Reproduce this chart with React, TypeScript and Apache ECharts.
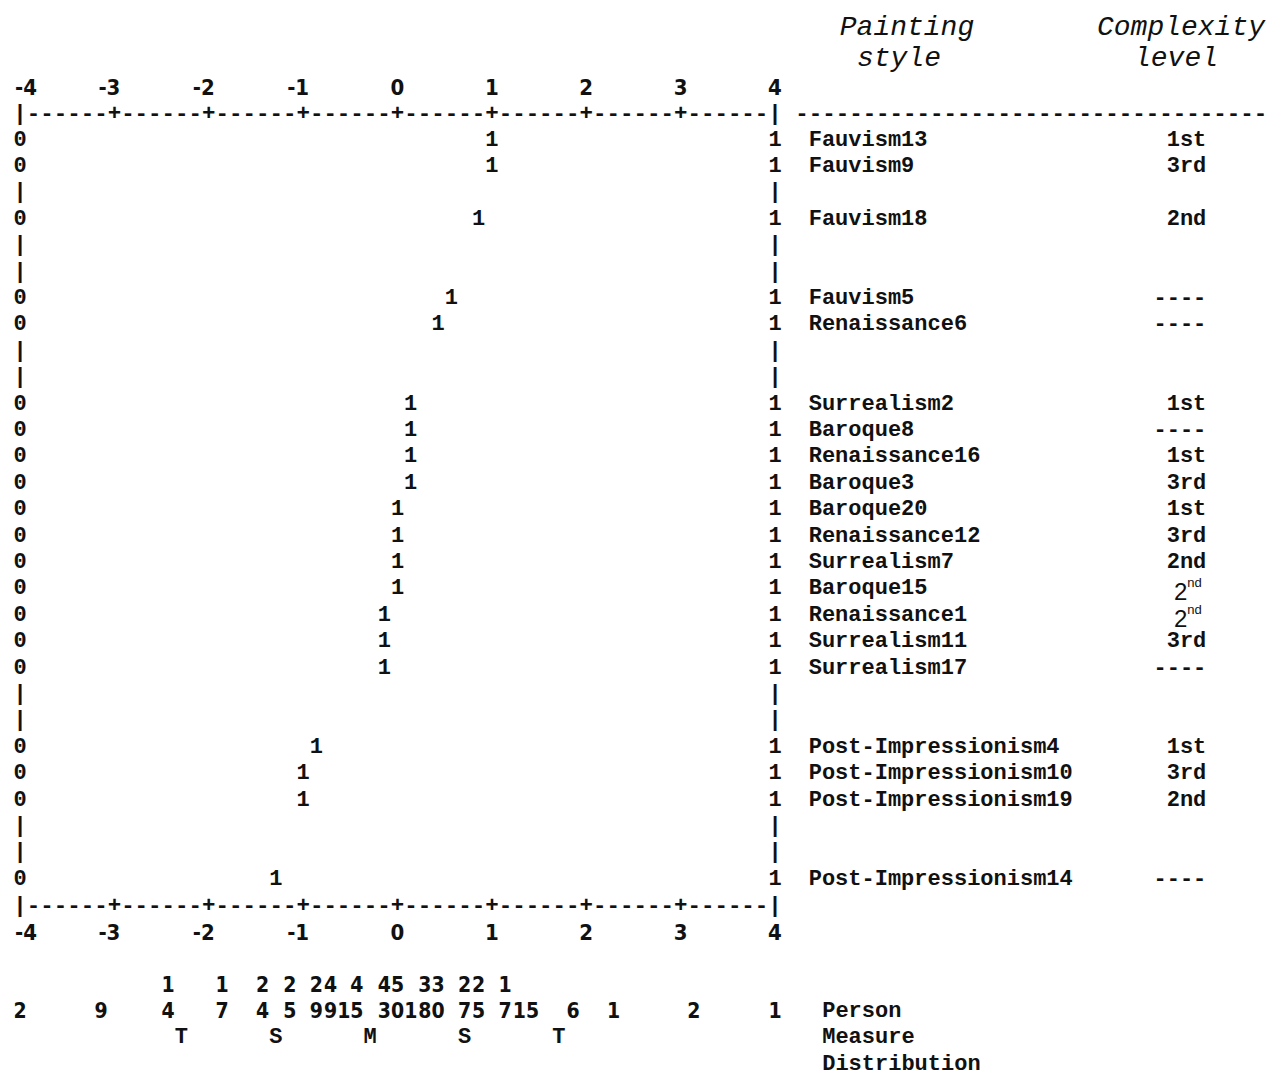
import React, { useEffect, useRef } from "react";
import * as echarts from "echarts";

// ---------------- DATA ----------------
// Item rows, top to bottom ("" = spacer row drawn with "|")
const itemNames: string[] = [
  "Fauvism13", "Fauvism9", "", "Fauvism18", "", "", "Fauvism5", "Renaissance6", "", "",
  "Surrealism2", "Baroque8", "Renaissance16", "Baroque3", "Baroque20", "Renaissance12",
  "Surrealism7", "Baroque15", "Renaissance1", "Surrealism11", "Surrealism17", "", "",
  "Post-Impressionism4", "Post-Impressionism10", "Post-Impressionism19", "", "",
  "Post-Impressionism14",
];
// Item measures (logits) where the expected score "1" is printed
const itemMeasures: (number | null)[] = [
  1.0, 1.0, null, 0.86, null, null, 0.57, 0.43, null, null,
  0.14, 0.14, 0.14, 0.14, 0.0, 0.0,
  0.0, 0.0, -0.14, -0.14, -0.14, null, null,
  -0.86, -1.0, -1.0, null, null,
  -1.29,
];
// Complexity level ("^" marks a superscript suffix)
const complexityLevels: string[] = [
  "1st", "3rd", "", "2nd", "", "", "----", "----", "", "",
  "1st", "----", "1st", "3rd", "1st", "3rd",
  "2nd", "2^nd", "2^nd", "3rd", "----", "", "",
  "1st", "3rd", "2nd", "", "",
  "----",
];
const tickValues: number[] = [-4, -3, -2, -1, 0, 1, 2, 3, 4];
const scaleLow = "0";
const scaleHigh = "1";

// Person measure distribution (measure of each printed column, and count)
const personMeasures: number[] = [
  -4.0, -3.14, -2.43, -1.86, -1.43, -1.14, -0.86, -0.71, -0.57, -0.43, -0.14, 0.0,
  0.14, 0.29, 0.43, 0.71, 0.86, 1.14, 1.29, 1.43, 1.86, 2.29, 3.14, 4.0,
];
const personCounts: number[] = [
  2, 9, 14, 17, 24, 25, 29, 49, 1, 45, 43, 50,
  1, 38, 30, 27, 25, 17, 1, 5, 6, 1, 2, 1,
];
const markerMeasures: number[] = [-2.29, -1.29, -0.29, 0.71, 1.71];
const markerLabels: string[] = ["T", "S", "M", "S", "T"];

const headerTexts = { style1: "Painting", style2: "style", level1: "Complexity", level2: "level" };
const distLabels: string[] = ["Person", "Measure", "Distribution"];

// ---------------- LAYOUT / STYLE ----------------
const W = 1282;
const H = 1075;
const X_LEFT = 20;
const X_RIGHT = 775;
const ROW_TOP = 140;
const ROW_H = 26.4;
const NROWS = itemNames.length; // 29
const COL = 1 / 7; // one character column in logits
const MONO = "'Liberation Mono', 'Courier New', monospace";
const NARROW = "'Liberation Sans Narrow', 'Arial Narrow', 'DejaVu Sans Condensed', sans-serif";
const SANS = "'Liberation Sans', Arial, sans-serif";
const INK = "#111";

const NAME_X = -4 + 59 * COL - COL / 2;
const LEVEL_X = 8.57;
const DIST_X = -4 + 60 * COL - COL / 2;

type TItem = {
  x: number; y: number; text: string;
  align?: string; dx?: number; dy?: number;
  size?: number; family?: string; weight?: string; fstyle?: string;
};

function textLayer(id: string, items: TItem[], base: { size: number; family: string; weight?: string; fstyle?: string }) {
  return {
    type: "custom",
    id,
    coordinateSystem: "cartesian2d",
    clip: false,
    silent: true,
    encode: { x: 0, y: 1 },
    data: items.map((it) => [it.x, it.y]),
    renderItem: (params: any, api: any) => {
      const it = items[params.dataIndex];
      const p = api.coord([api.value(0), api.value(1)]);
      return {
        type: "text",
        x: p[0] + (it.dx || 0),
        y: p[1] + (it.dy || 0),
        style: {
          text: it.text,
          fill: INK,
          fontFamily: it.family || base.family,
          fontSize: it.size || base.size,
          fontWeight: it.weight || base.weight || "bold",
          fontStyle: it.fstyle || base.fstyle || "normal",
          align: it.align || "center",
          verticalAlign: "middle",
        },
      };
    },
  };
}

function buildOption() {
  const ruleText = "|" + Array(8).fill("------").join("+") + "|";
  const rightRule = "-".repeat(35);

  // rules
  const rules: TItem[] = [
    { x: -4 - COL / 2, y: -1, text: ruleText, align: "left" },
    { x: -4 - COL / 2, y: NROWS, text: ruleText, align: "left" },
    { x: -4 + 58 * COL - COL / 2, y: -1, text: rightRule, align: "left" },
  ];

  // tick labels
  const ticks: TItem[] = [];
  [-2, NROWS + 1].forEach((line) => {
    tickValues.forEach((v, i) => {
      if (i === 0) ticks.push({ x: v, y: line, text: String(v), align: "left", dx: -5 });
      else if (v < 0) ticks.push({ x: v, y: line, text: String(v), align: "right", dx: 6 });
      else ticks.push({ x: v, y: line, text: String(v) });
    });
  });

  // side columns
  const sides: TItem[] = [];
  itemMeasures.forEach((m, r) => {
    sides.push({ x: -4, y: r, text: m === null ? "|" : scaleLow });
    sides.push({ x: 4, y: r, text: m === null ? "|" : scaleHigh });
  });

  // item marks
  const marks: TItem[] = [];
  itemMeasures.forEach((m, r) => {
    if (m !== null) marks.push({ x: m, y: r, text: scaleHigh });
  });

  // names
  const names: TItem[] = [];
  itemNames.forEach((n, r) => {
    if (n) names.push({ x: NAME_X, y: r, text: n, align: "left" });
  });

  // complexity
  const levels: TItem[] = [];
  complexityLevels.forEach((c, r) => {
    if (!c) return;
    if (c.includes("^")) {
      const [a, b] = c.split("^");
      levels.push({ x: LEVEL_X, y: r, text: a, align: "right", dx: -19, dy: 3, size: 24, family: SANS, weight: "normal" });
      levels.push({ x: LEVEL_X, y: r, text: b, align: "left", dx: -19, dy: -6, size: 13, family: SANS, weight: "normal" });
    } else {
      levels.push({ x: LEVEL_X, y: r, text: c, align: "right" });
    }
  });

  // distribution
  const dist: TItem[] = [];
  personMeasures.forEach((m, i) => {
    const c = personCounts[i];
    if (c >= 10) dist.push({ x: m, y: NROWS + 3, text: String(Math.floor(c / 10)) });
    dist.push({ x: m, y: NROWS + 4, text: String(c % 10) });
  });
  const markers: TItem[] = markerMeasures.map((m, i) => ({ x: m, y: NROWS + 5, text: markerLabels[i] }));
  const distNames: TItem[] = distLabels.map((t, i) => ({ x: DIST_X, y: NROWS + 4 + i, text: t, align: "left" }));

  return {
    animation: false,
    backgroundColor: "#ffffff",
    grid: { left: X_LEFT, right: W - X_RIGHT, top: ROW_TOP, bottom: H - (ROW_TOP + ROW_H * (NROWS - 1)) },
    xAxis: { type: "value", min: -4, max: 4, show: false },
    yAxis: { type: "value", min: 0, max: NROWS - 1, inverse: true, show: false },
    graphic: [
      { type: "text", x: 907, y: 27, style: { text: headerTexts.style1, fill: INK, fontFamily: MONO, fontSize: 28, fontStyle: "italic", align: "center", verticalAlign: "middle" } },
      { type: "text", x: 899, y: 58, style: { text: headerTexts.style2, fill: INK, fontFamily: MONO, fontSize: 28, fontStyle: "italic", align: "center", verticalAlign: "middle" } },
      { type: "text", x: 1181, y: 27, style: { text: headerTexts.level1, fill: INK, fontFamily: MONO, fontSize: 28, fontStyle: "italic", align: "center", verticalAlign: "middle" } },
      { type: "text", x: 1176, y: 58, style: { text: headerTexts.level2, fill: INK, fontFamily: MONO, fontSize: 28, fontStyle: "italic", align: "center", verticalAlign: "middle" } },
    ],
    series: [
      textLayer("rules", rules, { size: 22.47, family: MONO }),
      textLayer("ticks", ticks, { size: 22, family: NARROW }),
      textLayer("sides", sides, { size: 22, family: MONO }),
      textLayer("marks", marks, { size: 22, family: MONO }),
      textLayer("names", names, { size: 22, family: MONO }),
      textLayer("levels", levels, { size: 22, family: MONO }),
      textLayer("dist", dist, { size: 21, family: NARROW }),
      textLayer("markers", markers, { size: 22, family: MONO }),
      textLayer("distNames", distNames, { size: 22, family: MONO }),
    ],
  };
}

export default function App() {
  const ref = useRef<HTMLDivElement>(null);
  useEffect(() => {
    if (!ref.current) return;
    const chart = echarts.init(ref.current, undefined, { renderer: "svg" });
    chart.setOption(buildOption() as any);
    return () => chart.dispose();
  }, []);
  return (
    <div
      ref={ref}
      style={{ position: "absolute", left: 0, top: 0, width: W, height: H, background: "#fff" }}
    />
  );
}
